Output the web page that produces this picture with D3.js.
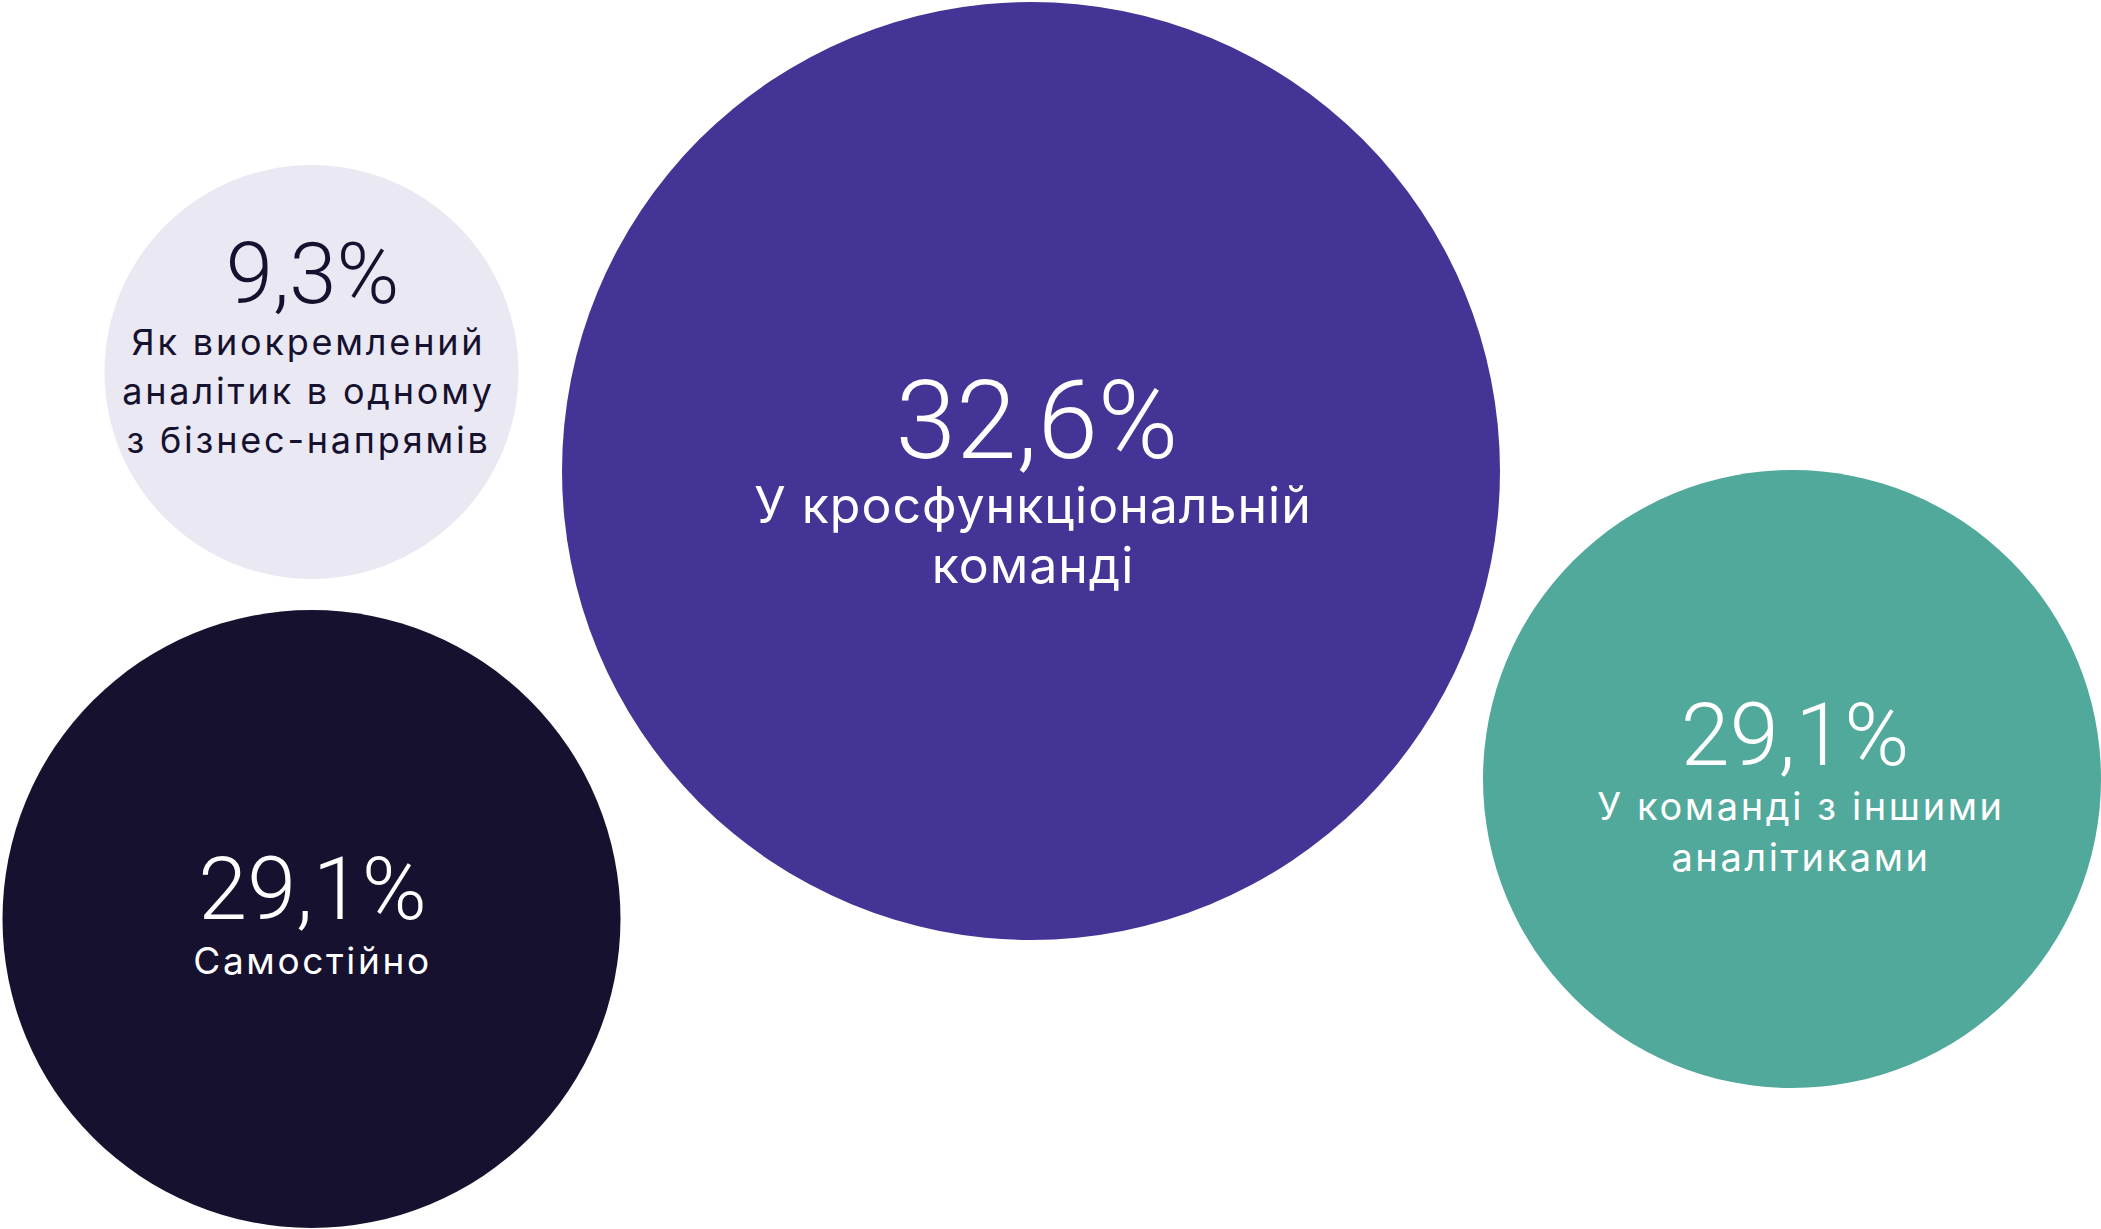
<!DOCTYPE html>
<html>
<head>
<meta charset="utf-8">
<script src="https://cdn.jsdelivr.net/npm/d3@7"></script>
<style>
  html, body { margin: 0; padding: 0; background: #ffffff; }
  svg { display: block; }
</style>
</head>
<body>
<svg id="chart" width="2101" height="1229"></svg>
<script>
// ---- data ----
const categories = [
  "Як виокремлений аналітик в одному з бізнес-напрямів",
  "У кросфункціональній команді",
  "У команді з іншими аналітиками",
  "Самостійно"
];
const values = [9.3, 32.6, 29.1, 29.1];
const labelLines = [
  ["Як виокремлений", "аналітик в одному", "з бізнес-напрямів"],
  ["У кросфункціональній", "команді"],
  ["У команді з іншими", "аналітиками"],
  ["Самостійно"]
];

// ---- layout / style (not data) ----
const layout = [
  { cx: 311.5, cy: 372, fill: "#EAE9F3", text: "#15112F", pctSize: 85,  pctDx: 1, pctDy: -69, lblSize: 36, lblDx: -3, lblDy: -17, lh: 49, ls: 2.8 },
  { cx: 1031,  cy: 471, fill: "#433495", text: "#FFFFFF", pctSize: 109, pctDx: 6, pctDy: -13, lblSize: 50, lblDx: 2,  lblDy: 52,  lh: 60, ls: 1.0 },
  { cx: 1792,  cy: 779, fill: "#50A99B", text: "#FFFFFF", pctSize: 88,  pctDx: 3, pctDy: -14, lblSize: 38, lblDx: 9,  lblDy: 41,  lh: 51, ls: 2.6 },
  { cx: 311.5, cy: 919, fill: "#15112F", text: "#FFFFFF", pctSize: 88,  pctDx: 1, pctDy: 0,   lblSize: 37, lblDx: 1,  lblDy: 55,  lh: 51, ls: 2.6 }
];

// radius scale (the design uses non-proportional bubble sizes)
const rScale = d3.scaleLinear().domain([9.3, 29.1, 32.6]).range([207, 309, 469]);
const fmt = v => d3.format(".1f")(v).replace(".", ",") + "%";

const rows = categories.map((c, i) => ({ category: c, value: values[i], lines: labelLines[i], ...layout[i] }));

const svg = d3.select("#chart");

const g = svg.selectAll("g.bubble").data(rows).join("g")
  .attr("class", "bubble")
  .attr("transform", d => `translate(${d.cx},${d.cy})`);

g.append("circle")
  .attr("r", d => rScale(d.value))
  .attr("fill", d => d.fill);

g.append("text")
  .attr("text-anchor", "middle")
  .attr("x", d => d.pctDx)
  .attr("y", d => d.pctDy)
  .attr("fill", d => d.text)
  .style("font-family", "Roboto, 'Open Sans', sans-serif")
  .style("font-weight", 300)
  .style("font-size", d => d.pctSize + "px")
  .text(d => fmt(d.value));

g.each(function(d) {
  const t = d3.select(this).append("text")
    .attr("text-anchor", "middle")
    .attr("fill", d.text)
    .style("font-family", "Inter, 'Noto Sans', sans-serif")
    .style("font-weight", 400)
    .style("font-size", d.lblSize + "px")
    .style("letter-spacing", d.ls + "px");
  d.lines.forEach((line, k) => {
    t.append("tspan").attr("x", d.lblDx).attr("y", d.lblDy + k * d.lh).text(line);
  });
});
</script>
</body>
</html>
